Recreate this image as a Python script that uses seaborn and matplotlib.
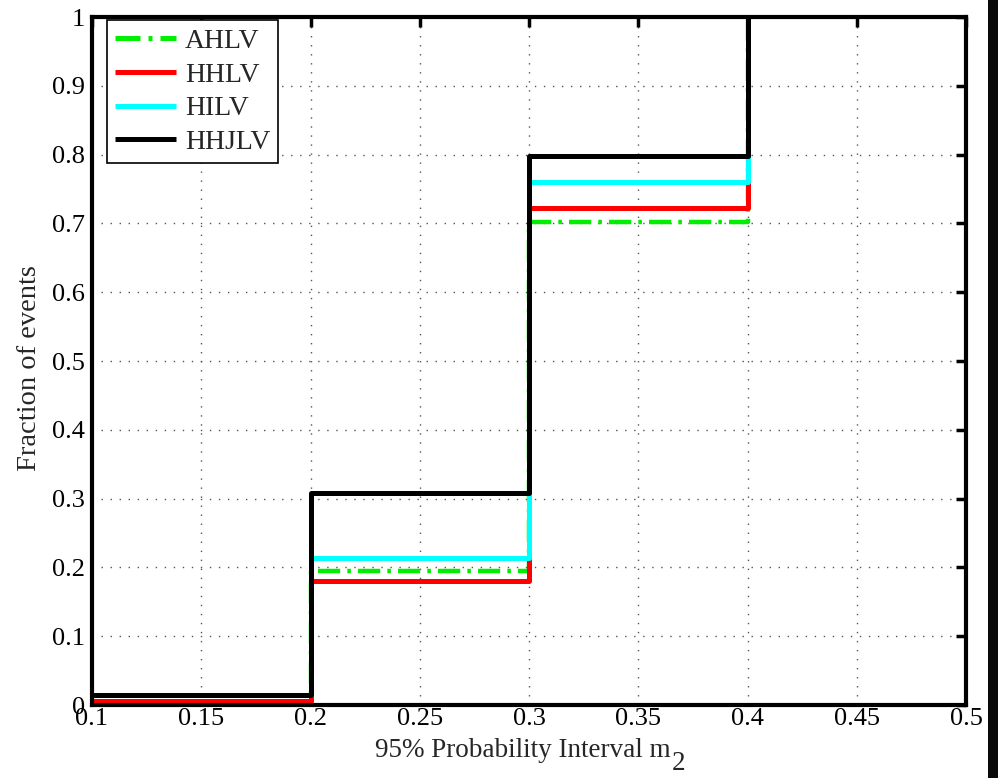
import matplotlib
matplotlib.use("Agg")
import matplotlib.pyplot as plt
import seaborn as sns
import pandas as pd
from matplotlib.patches import Rectangle

# Bin edges of the probability-interval width and cumulative fraction of events
bin_edges = [0.1, 0.2, 0.3, 0.4]
ahlv = [0.000, 0.195, 0.702, 1.0]
hhlv = [0.006, 0.180, 0.722, 1.0]
hilv = [0.014, 0.214, 0.760, 1.0]
hhjlv = [0.014, 0.308, 0.798, 1.0]

series_names = ["AHLV", "HHLV", "HILV", "HHJLV"]
series_values = [ahlv, hhlv, hilv, hhjlv]
series_colors = ["#00ee00", "#ff0000", "#00ffff", "#000000"]

x_ticks = [0.1, 0.15, 0.2, 0.25, 0.3, 0.35, 0.4, 0.45, 0.5]
x_tick_labels = ["0.1", "0.15", "0.2", "0.25", "0.3", "0.35", "0.4", "0.45", "0.5"]
y_ticks = [0.0, 0.1, 0.2, 0.3, 0.4, 0.5, 0.6, 0.7, 0.8, 0.9, 1.0]
y_tick_labels = ["0", "0.1", "0.2", "0.3", "0.4", "0.5", "0.6", "0.7", "0.8", "0.9", "1"]

x_label_main = "95% Probability Interval m"
x_label_sub = "2"
y_label = "Fraction of events"

sns.set_style("white")
plt.rcParams["font.family"] = ["Liberation Serif", "DejaVu Serif"]

W, H = 998, 778
fig = plt.figure(figsize=(W / 100, H / 100), dpi=100)
fig.patch.set_facecolor("white")
ax = fig.add_axes([92 / W, 73 / H, 874 / W, 688 / H])

for name, vals, col in zip(series_names, series_values, series_colors):
    df = pd.DataFrame({"x": bin_edges, "y": vals})
    sns.lineplot(data=df, x="x", y="y", ax=ax, color=col, lw=3.6,
                 drawstyle="steps-post", estimator=None, label=name,
                 solid_capstyle="butt")

# dash-dot pattern for the first series
dashdot = [5, 1.6, 0.8, 1.6]
line0 = ax.get_lines()[0]
line0.set_dashes(dashdot)
line0.set_linewidth(3.2)

ax.set_xlim(0.1, 0.5)
ax.set_ylim(0, 1)
ax.set_xticks(x_ticks)
ax.set_xticklabels(x_tick_labels)
ax.set_yticks(y_ticks)
ax.set_yticklabels(y_tick_labels)

ax.grid(True, color="#555555", linestyle=(0, (1, 5.5)), linewidth=1.0)
ax.tick_params(direction="in", length=7, width=2.5, labelsize=19,
               top=True, right=True, pad=5, colors="black")
ax.tick_params(axis="x", pad=2)
for sp in ax.spines.values():
    sp.set_linewidth(3)
    sp.set_color("black")
    sp.set_visible(True)

ax.set_xlabel("")
ax.set_ylabel("")

# axis titles placed in figure pixels
fig.text(30 / W, 1 - 368 / H, y_label, fontsize=20.5, rotation=90,
         ha="center", va="center")
main_txt = fig.text(522.5 / W, 1 - 757 / H, x_label_main, fontsize=19.5,
                    ha="center", va="baseline")
fig.canvas.draw()
bb = main_txt.get_window_extent()
fig.text(bb.x1 + 1, (H - 770), x_label_sub, fontsize=19.5, ha="left",
         va="baseline", transform=None)

leg = ax.legend(loc="upper left", bbox_to_anchor=(15 / 874, 1 - 3 / 688),
                borderaxespad=0, fontsize=20, frameon=True, fancybox=False,
                handlelength=2.2, handletextpad=0.3, labelspacing=0.3,
                borderpad=0.3, edgecolor="black", framealpha=1)
leg.get_frame().set_linewidth(1.2)
for h in leg.get_lines():
    h.set_linewidth(3.6)
leg.get_lines()[0].set_dashes(dashdot)

# dark strip along the right edge of the figure
fig.patches.append(Rectangle((988 / W, 0), 10 / W, 1, transform=fig.transFigure,
                             facecolor="#0a0a0a", edgecolor="none"))

fig.savefig("out.png", dpi=100)
